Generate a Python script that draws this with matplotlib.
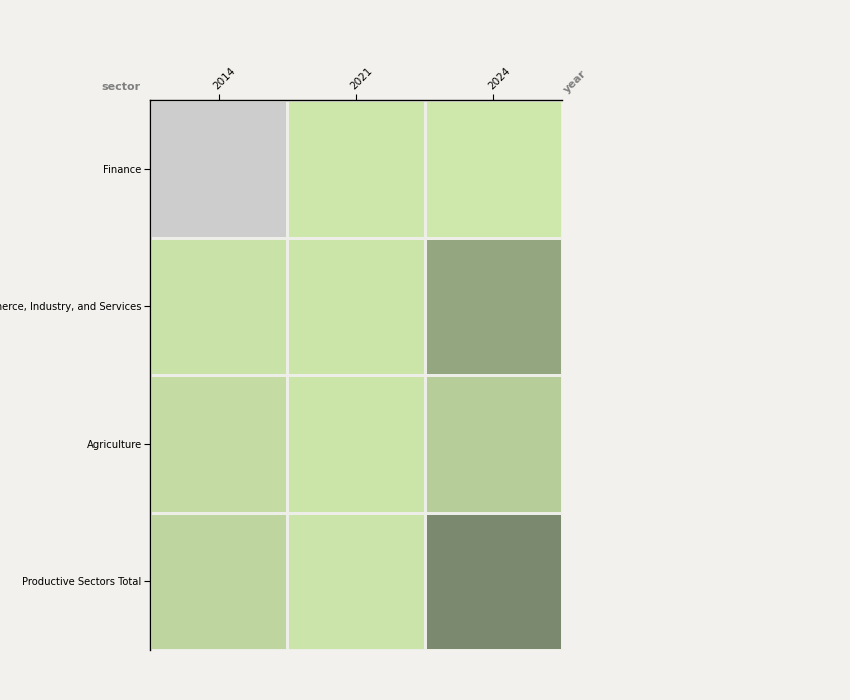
import numpy as np
import matplotlib.pyplot as plt
from matplotlib.colors import LinearSegmentedColormap

years = ["2014", "2021", "2024"]
sectors = ["Finance", "Commerce, Industry, and Services", "Agriculture",
           "Productive Sectors Total"]
# share of value (estimated), rows follow sectors, columns follow years
finance = [np.nan, 2.0, 1.5]
commerce = [7.0, 4.0, 61.0]
agriculture = [12.0, 4.0, 26.0]
total = [18.0, 5.0, 86.0]

values = np.ma.masked_invalid(np.array([finance, commerce, agriculture, total]))

bg = "#f2f1ed"
cmap = LinearSegmentedColormap.from_list("greens", ["#cfe9ac", "#6e7b64"])
cmap.set_bad("#cdcdcd")

fig = plt.figure(figsize=(8.5, 7), dpi=100, facecolor=bg)
ax = fig.add_axes([0.1765, 0.0714, 0.4847, 0.7857])
ax.set_facecolor(bg)

ax.pcolormesh(values, cmap=cmap, vmin=0, vmax=100,
              edgecolors="#eeeee8", linewidth=0.9)

ax.set_xlim(0, len(years))
ax.set_ylim(len(sectors), 0)

ax.xaxis.tick_top()
ax.set_xticks(np.arange(len(years)) + 0.5)
ax.set_xticklabels(years, rotation=45, ha="left", va="bottom",
                   rotation_mode="anchor", fontsize=7.5)
ax.set_yticks(np.arange(len(sectors)) + 0.5)
ax.set_yticklabels(sectors, fontsize=7.2)
ax.tick_params(length=4, width=0.8, pad=2)

for side in ["right", "bottom"]:
    ax.spines[side].set_visible(False)
for side in ["top", "left"]:
    ax.spines[side].set_color("black")
    ax.spines[side].set_linewidth(1.0)

fig.text(141/850, 1 - 87/700, "sector", ha="right", va="center",
         fontsize=8, fontweight="bold", color="#808080")
fig.text(569/850, 1 - 95/700, "year", ha="left", va="bottom", rotation=45,
         rotation_mode="anchor", fontsize=8, fontweight="bold", color="#808080")

plt.savefig("out.png", dpi=100, facecolor=bg)
